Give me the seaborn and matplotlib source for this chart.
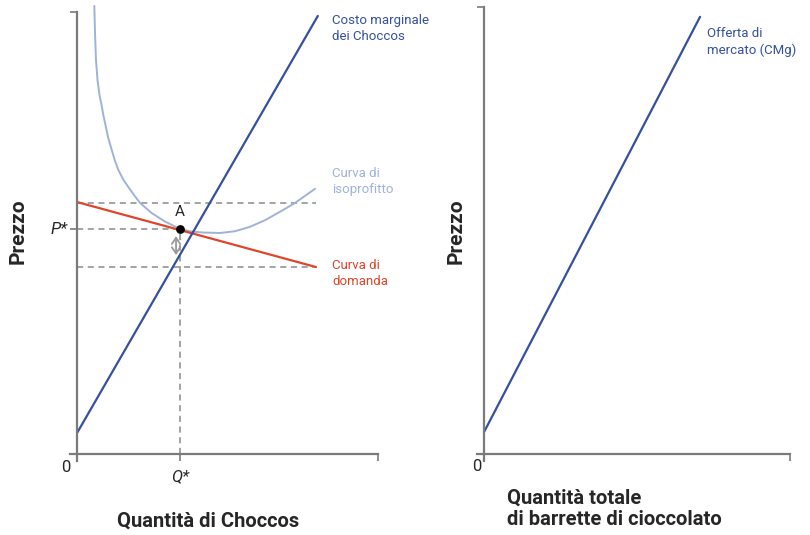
import numpy as np
import matplotlib
matplotlib.use("Agg")
import matplotlib.pyplot as plt
import seaborn as sns

# left panel: one firm (Choccos)
mc_x = [0, 80]
mc_y = [4.75, 99.1]
demand_x = [0, 79.4]
demand_y = [57.0, 42.3]
iso_x = [5.75, 5.98, 6.31, 6.81, 7.48, 8.14, 8.74, 9.47, 10.30, 11.53, 12.62, 13.72,
         15.28, 17.04, 18.94, 20.93, 24.82, 29.24, 34.22, 38.21, 42.19, 47.51, 52.49,
         57.48, 62.46, 67.44, 72.43, 79.07]
iso_y = [101.4, 95.2, 89.1, 84.6, 81.2, 79.0, 76.7, 74.4, 71.7, 68.8, 66.3, 64.3,
         62.2, 60.4, 58.6, 56.8, 54.5, 52.6, 50.9, 50.3, 50.1, 50.0, 50.4,
         51.4, 52.9, 54.8, 56.8, 60.0]
q_star = 34.22
p_star = 50.9
upper_level = 56.8
lower_level = 42.3
dash_end = 79.4
arrow_x = 32.9
arrow_y = [49.3, 45.0]

# right panel: market supply
supply_x = [0, 70.6]
supply_y = [4.9, 97.8]

dark_blue = "#34509f"
light_blue = "#9fb3d8"
red = "#e0452b"
axis_grey = "#7a7a7a"
dash_grey = "#8a8a8a"

sns.set_style("white")
plt.rcParams['font.family'] = ['Roboto', 'DejaVu Sans']

fig = plt.figure(figsize=(8.1, 5.35), dpi=100)
ax1 = fig.add_axes([70 / 810, 1 - 461 / 535, 310 / 810, 456 / 535])
ax2 = fig.add_axes([477 / 810, 1 - 461 / 535, 315 / 810, 456 / 535])


def style_axes(ax, xlim, ylim):
    ax.set_xlim(*xlim)
    ax.set_ylim(*ylim)
    for s in ["top", "right"]:
        ax.spines[s].set_visible(False)
    for s in ["left", "bottom"]:
        ax.spines[s].set_color(axis_grey)
        ax.spines[s].set_linewidth(1.6)
        ax.spines[s].set_position(("data", 0))
    ax.spines["left"].set_bounds(ylim[0], 100)
    ax.spines["bottom"].set_bounds(xlim[0], 100)
    ax.tick_params(direction="out", length=5, width=1.2, color=axis_grey,
                   labelsize=12, bottom=True, left=True)


# ---- left panel ----
style_axes(ax1, (-2.33, 100.66), (-1.58, 101.58))

ax1.plot([0, dash_end], [upper_level, upper_level], ls=(0, (4, 3)), color=dash_grey, lw=1.1)
ax1.plot([0, dash_end], [lower_level, lower_level], ls=(0, (4, 3)), color=dash_grey, lw=1.1)
ax1.plot([0, q_star], [p_star, p_star], ls=(0, (4, 3)), color=dash_grey, lw=1.1)
ax1.plot([q_star, q_star], [0, p_star], ls=(0, (4, 3)), color=dash_grey, lw=1.1)

sns.lineplot(x=iso_x, y=iso_y, ax=ax1, color=light_blue, lw=1.4, sort=False, clip_on=False)
sns.lineplot(x=demand_x, y=demand_y, ax=ax1, color=red, lw=1.6)
sns.lineplot(x=mc_x, y=mc_y, ax=ax1, color=dark_blue, lw=1.6, clip_on=False)

ax1.scatter([q_star], [p_star], s=28, color="black", zorder=5)
ax1.text(q_star, p_star + 3.9, "A", ha="center", va="center", fontsize=11)
ax1.annotate("", xy=(arrow_x, arrow_y[0]), xytext=(arrow_x, arrow_y[1]),
             arrowprops=dict(arrowstyle="<->,head_length=0.45,head_width=0.3",
                             color="#999999", lw=1.3, shrinkA=0, shrinkB=0,
                             mutation_scale=10))

ax1.set_xticks([0, q_star, 100])
ax1.set_xticklabels(["", "", ""])
ax1.set_yticks([p_star, 100])
ax1.set_yticklabels(["", ""])
ax1.annotate("0", xy=(0, 0), xytext=(-8, -10), textcoords="offset points",
             ha="center", va="center", fontsize=12)
ax1.annotate("Q*", xy=(q_star, 0), xytext=(0, -16), textcoords="offset points",
             ha="center", va="center", fontsize=12, fontstyle="italic")
ax1.annotate("P*", xy=(0, p_star), xytext=(-7, 0), textcoords="offset points",
             ha="right", va="center", fontsize=12, fontstyle="italic")

ax1.text(84.8, 99.5, "Costo marginale\ndei Choccos", color=dark_blue, fontsize=9.5,
         ha="left", va="top", linespacing=1.3)
ax1.text(84.8, 65.0, "Curva di\nisoprofitto", color=light_blue, fontsize=9.5,
         ha="left", va="top", linespacing=1.3)
ax1.text(84.8, 44.2, "Curva di\ndomanda", color=red, fontsize=9.5,
         ha="left", va="top", linespacing=1.3)

ax1.set_xlabel("")
ax1.set_ylabel("")
fig.text(208 / 810, 1 - 521 / 535, "Quantità di Choccos", ha="center", va="center",
         fontsize=14.5, fontweight="bold")
fig.text(18 / 810, 1 - 231 / 535, "Prezzo", ha="center", va="center", rotation=90,
         fontsize=15, fontweight="bold")

# ---- right panel ----
style_axes(ax2, (-2.29, 100.65), (-1.57, 100.45))
sns.lineplot(x=supply_x, y=supply_y, ax=ax2, color=dark_blue, lw=1.6)
ax2.set_xticks([0, 100])
ax2.set_xticklabels(["", ""])
ax2.set_yticks([100])
ax2.set_yticklabels([""])
ax2.annotate("0", xy=(0, 0), xytext=(-5, -9), textcoords="offset points",
             ha="center", va="center", fontsize=12)
ax2.text(72.9, 95.5, "Offerta di\nmercato (CMg)", color=dark_blue, fontsize=9.5,
         ha="left", va="top", linespacing=1.3)
ax2.set_xlabel("")
ax2.set_ylabel("")
fig.text(507 / 810, 1 - 509 / 535, "Quantità totale\ndi barrette di cioccolato",
         ha="left", va="center", fontsize=14.5, fontweight="bold", linespacing=1.15)
fig.text(456 / 810, 1 - 231 / 535, "Prezzo", ha="center", va="center", rotation=90,
         fontsize=15, fontweight="bold")

fig.savefig("out.png", dpi=100)
